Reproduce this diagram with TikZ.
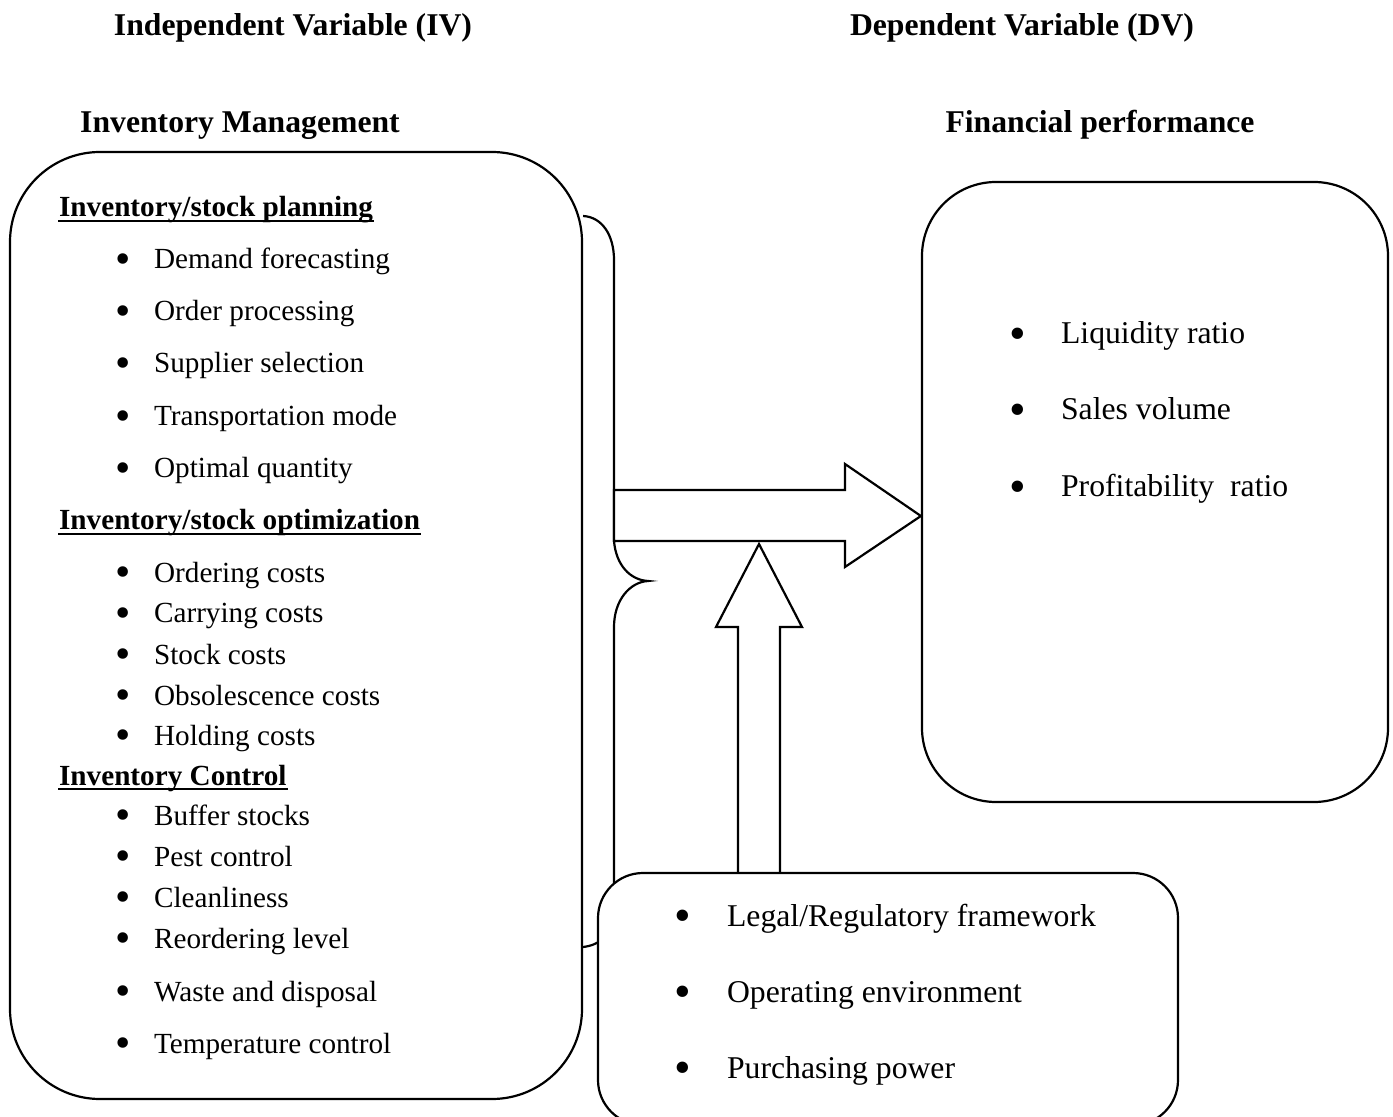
\documentclass[tikz,border=0pt]{standalone}
\usepackage{fontspec}
\setmainfont{Liberation Serif}
\usepackage{graphicx}
\usepackage{tikz}
\usetikzlibrary{arrows}

\newcommand{\bul}[1]{\makebox[#1][l]{\raisebox{-0.16em}{\scalebox{1.5}{\textbullet}}}}

\begin{document}
\begin{tikzpicture}[x=0.5pt,y=-0.5pt,line width=1.1pt]
        \tikzstyle{box}=[draw=black,fill=white,line width=1.1pt]
        \tikzstyle{title}=[anchor=base,inner sep=0pt,font=\fontsize{15.85}{18}\selectfont\bfseries]
        \tikzstyle{head}=[anchor=base west,inner sep=0pt,font=\fontsize{14.6}{17}\selectfont\bfseries]
        \tikzstyle{item}=[anchor=base west,inner sep=0pt,font=\fontsize{14.6}{17}\selectfont]
        \tikzstyle{bigitem}=[anchor=base west,inner sep=0pt,font=\fontsize{15.85}{18}\selectfont]

        \useasboundingbox (0,0) rectangle (1393,1117);
        \clip (0,0) rectangle (1393,1117);

        \node[title] (iv) at (293,36) {Independent Variable (IV)};
        \node[title] (dv) at (1022,36) {Dependent Variable (DV)};
        \node[title] (im) at (240,133) {Inventory Management};
        \node[title] (fp) at (1100,133) {Financial performance};

        \node[box, rounded corners=45pt, minimum width=286pt, minimum height=473.5pt] (lbox) at (296,625.5) {};
        \node[box, rounded corners=37pt, minimum width=233pt, minimum height=310pt] (rbox) at (1155,492) {};

        \draw (lbox.east |- 0,216) .. controls (602,217) and (614,235) .. (614,260)
            -- (614,541) .. controls (616,565) and (630,580) .. (648,581)
            .. controls (630,582) and (614,600) .. (614,627)
            -- (614,905) .. controls (614,935) and (600,945) .. (lbox.east |- 0,947);

        \draw[fill=white] (614,490) -- (845,490) -- (845,464) -- (rbox.west |- 0,516)
            -- (845,567) -- (845,541) -- (614,541) -- cycle;
        \draw[fill=white] (738,873) -- (738,627) -- (716,627) -- (759,544)
            -- (802,627) -- (780,627) -- (780,873);

        \node[box, rounded corners=22.5pt, minimum width=290pt, minimum height=126pt] (bbox) at (888,999) {};

        \node[head] (plan) at (58,217) {Inventory/stock planning};
        \draw[line width=0.9pt] ([yshift=-2pt]plan.base west) -- ([yshift=-2pt]plan.base east);
        \node[item] (p1) at (114.5,269) {\bul{19.25pt}Demand forecasting};
        \node[item] (p2) at (114.5,321) {\bul{19.25pt}Order processing};
        \node[item] (p3) at (114.5,373) {\bul{19.25pt}Supplier selection};
        \node[item] (p4) at (114.5,426) {\bul{19.25pt}Transportation mode};
        \node[item] (p5) at (114.5,478) {\bul{19.25pt}Optimal quantity};

        \node[head] (opt) at (58,530) {Inventory/stock optimization};
        \draw[line width=0.9pt] ([yshift=-2pt]opt.base west) -- ([yshift=-2pt]opt.base east);
        \node[item] (o1) at (114.5,582) {\bul{19.25pt}Ordering costs};
        \node[item] (o2) at (114.5,623) {\bul{19.25pt}Carrying costs};
        \node[item] (o3) at (114.5,664) {\bul{19.25pt}Stock costs};
        \node[item] (o4) at (114.5,705) {\bul{19.25pt}Obsolescence costs};
        \node[item] (o5) at (114.5,745) {\bul{19.25pt}Holding costs};

        \node[head] (ctl) at (58,785) {Inventory Control};
        \draw[line width=0.9pt] ([yshift=-2pt]ctl.base west) -- ([yshift=-2pt]ctl.base east);
        \node[item] (c1) at (114.5,825) {\bul{19.25pt}Buffer stocks};
        \node[item] (c2) at (114.5,866) {\bul{19.25pt}Pest control};
        \node[item] (c3) at (114.5,907) {\bul{19.25pt}Cleanliness};
        \node[item] (c4) at (114.5,948) {\bul{19.25pt}Reordering level};
        \node[item] (c5) at (114.5,1001) {\bul{19.25pt}Waste and disposal};
        \node[item] (c6) at (114.5,1053) {\bul{19.25pt}Temperature control};

        \node[bigitem] (f1) at (1008.5,344) {\bul{25.75pt}Liquidity ratio};
        \node[bigitem] (f2) at (1008.5,420) {\bul{25.75pt}Sales volume};
        \node[bigitem] (f3) at (1008.5,497) {\bul{25.75pt}Profitability\ \ ratio};

        \node[bigitem] (m1) at (673.5,926) {\bul{26.25pt}Legal/Regulatory framework};
        \node[bigitem] (m2) at (673.5,1002) {\bul{26.25pt}Operating environment};
        \node[bigitem] (m3) at (673.5,1078) {\bul{26.25pt}Purchasing power};
    \end{tikzpicture}
\end{document}
